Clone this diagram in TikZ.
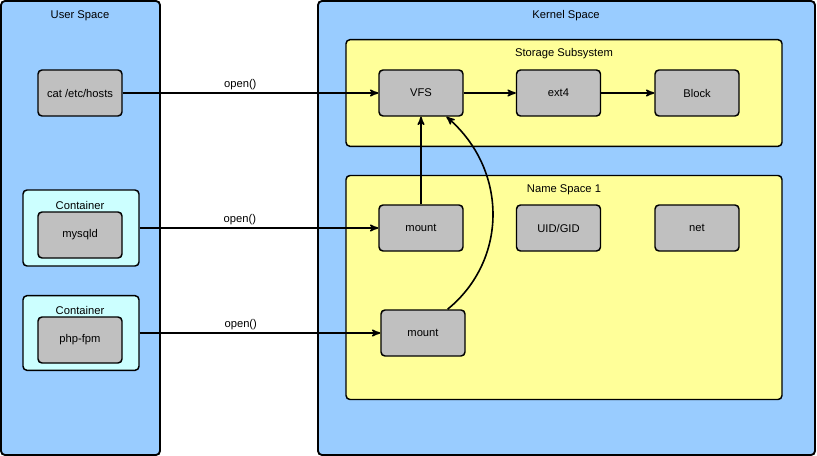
\documentclass[tikz,border=0pt]{standalone}
\usepackage{fontspec}
\setmainfont{Liberation Sans}
\usetikzlibrary{arrows}

\definecolor{spaceblue}{HTML}{99CCFF}
\definecolor{subyellow}{HTML}{FFFF99}
\definecolor{procgray}{HTML}{C0C0C0}
\definecolor{contcyan}{HTML}{CCFFFF}

\tikzset{
  panel/.style={draw=black,line width=1.4pt,rounded corners=3pt,fill=spaceblue,inner sep=0pt},
  subsys/.style={draw=black,line width=1.1pt,rounded corners=3pt,fill=subyellow,inner sep=0pt},
  container/.style={draw=black,line width=1.1pt,rounded corners=3pt,fill=contcyan,inner sep=0pt},
  proc/.style={draw=black,line width=1.1pt,rounded corners=3pt,fill=procgray,inner sep=0pt,
    minimum width=63pt,minimum height=34.5pt},
  title/.style={inner sep=0pt},
  call/.style={line width=1.2pt,-stealth'},
  calllabel/.style={above=2pt,inner sep=0pt}
}

\begin{document}
\begin{tikzpicture}[x=0.75pt,y=-0.75pt,font=\fontsize{8.4}{10}\selectfont]
\useasboundingbox (0,0) rectangle (817,456);
	%Spaces
	\node[panel,minimum width=119.25pt,minimum height=340.5pt] (userspace) at (80.5,228) {};
	\node[panel,minimum width=372.75pt,minimum height=340.5pt] (kernelspace) at (566.5,228) {};
	\node[title] (usertitle) at (80,15.5) {User Space};
	\node[title] (kerneltitle) at (566,15.5) {Kernel Space};
	%Kernel subsystems
	\node[subsys,minimum width=327pt,minimum height=80pt] (storage) at (564,93) {};
	\node[title] (storagetitle) at (564,53.5) {Storage Subsystem};
	\node[subsys,minimum width=327pt,minimum height=168pt] (ns1) at (564,287.5) {};
	\node[title] (ns1title) at (564,189.5) {Name Space 1};
	%Containers
	\node[container,minimum width=87pt,minimum height=57pt] (cont1) at (81,228) {};
	\node[title] (cont1title) at (80,205.5) {Container};
	\node[container,minimum width=87pt,minimum height=56pt] (cont2) at (81,333) {};
	\node[title] (cont2title) at (80,310.5) {Container};
	%Processes
	\node[proc] (cat) at (80,93) {cat /etc/hosts};
	\node[proc] (mysqld) at (80,235) {mysqld};
	\node[proc] (phpfpm) at (80,340) {php-fpm};
	%Storage
	\node[proc] (vfs) at (421,93) {VFS};
	\node[proc] (ext4) at (558.5,93) {ext4};
	\node[proc] (block) at (697,93) {Block};
	%Name space
	\node[proc] (mount1) at (421,228) {mount};
	\node[proc] (uidgid) at (558.5,228) {UID/GID};
	\node[proc] (net) at (697,228) {net};
	\node[proc] (mount2) at (423,333) {mount};
	%Calls
	\draw[call] (cat) -- node[calllabel,pos=0.46] (open1) {open()} (vfs);
	\draw[call] (cont1) -- node[calllabel,pos=0.42] (open2) {open()} (mount1);
	\draw[call] (cont2) -- node[calllabel,pos=0.42] (open3) {open()} (mount2);
	\draw[call] (vfs) -- (ext4);
	\draw[call] (ext4) -- (block);
	\draw[call] (mount1) -- (vfs);
	\draw[call] (mount2.44) .. controls (508,260) and (508,170) .. (vfs.-43);
\end{tikzpicture}
\end{document}
